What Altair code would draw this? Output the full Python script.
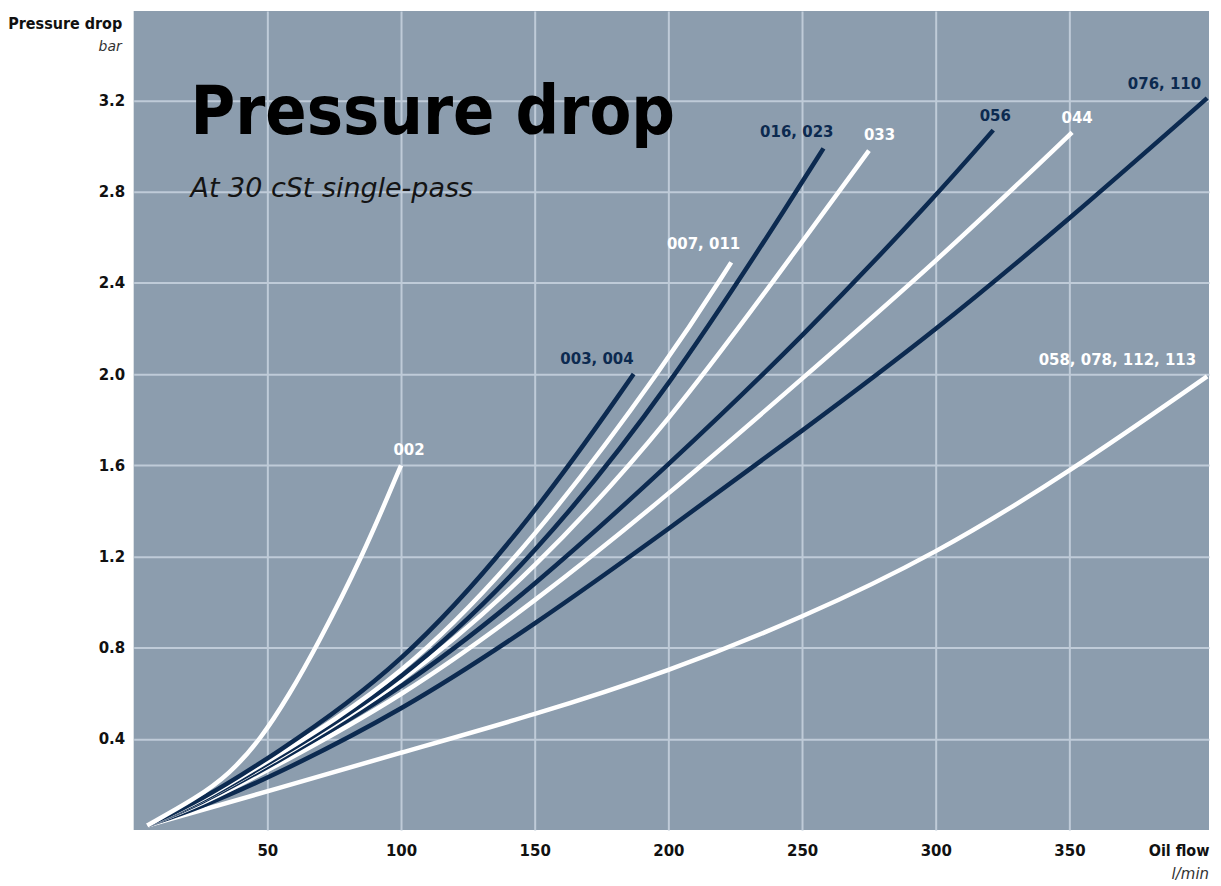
import altair as alt
import pandas as pd

# ---------------- data ----------------
series_names = ["058, 078, 112, 113", "076, 110", "044", "056", "033",
                "016, 023", "007, 011", "003, 004", "002"]

flow_058 = [5, 25, 50, 100, 150, 200, 250, 300, 350, 401.5]
dp_058 = [0.02, 0.085, 0.17, 0.34, 0.505, 0.695, 0.93, 1.21, 1.57, 1.99]

flow_076 = [5, 25, 50, 100, 150, 200, 250, 300, 350, 401.5]
dp_076 = [0.02, 0.10, 0.225, 0.52, 0.90, 1.32, 1.75, 2.19, 2.68, 3.21]

flow_044 = [5, 25, 50, 100, 150, 200, 250, 300, 351]
dp_044 = [0.02, 0.11, 0.26, 0.58, 1.00, 1.47, 1.98, 2.49, 3.06]

flow_056 = [5, 25, 50, 100, 150, 200, 250, 300, 321.5]
dp_056 = [0.02, 0.115, 0.275, 0.61, 1.07, 1.60, 2.16, 2.78, 3.07]

flow_033 = [5, 25, 50, 100, 150, 200, 250, 275]
dp_033 = [0.02, 0.12, 0.285, 0.63, 1.14, 1.78, 2.58, 2.98]

flow_016 = [5, 25, 50, 100, 150, 200, 250, 258]
dp_016 = [0.02, 0.12, 0.29, 0.64, 1.20, 1.93, 2.84, 2.99]

flow_007 = [5, 25, 50, 100, 150, 200, 223.5]
dp_007 = [0.02, 0.125, 0.30, 0.66, 1.27, 2.06, 2.49]

flow_003 = [5, 25, 50, 100, 150, 187]
dp_003 = [0.02, 0.13, 0.31, 0.71, 1.38, 2.00]

flow_002 = [5, 23.4, 35.8, 47.6, 58, 68.2, 85.6, 100]
dp_002 = [0.02, 0.14, 0.245, 0.40, 0.59, 0.80, 1.20, 1.60]

x_ticks = [50, 100, 150, 200, 250, 300, 350]
y_ticks = [0.4, 0.8, 1.2, 1.6, 2.0, 2.4, 2.8, 3.2]

# ---------------- styling ----------------
NAVY = "#0c2a50"
WHITE = "#ffffff"
series_colors = [WHITE, NAVY, WHITE, NAVY, WHITE, NAVY, WHITE, NAVY, WHITE]
# label placement relative to each curve's last point: (align, dx, dy)
label_style = {
    "058, 078, 112, 113": ("right", -11, -11),
    "076, 110": ("right", -6, -9),
    "044": ("center", 5, -9),
    "056": ("center", 2, -9),
    "033": ("left", -5, -11),
    "016, 023": ("right", 10, -11),
    "007, 011": ("right", 9, -13),
    "003, 004": ("right", 0, -10),
    "002": ("center", 8, -10),
}

flows = [flow_058, flow_076, flow_044, flow_056, flow_033, flow_016, flow_007, flow_003, flow_002]
drops = [dp_058, dp_076, dp_044, dp_056, dp_033, dp_016, dp_007, dp_003, dp_002]

rows = []
for i, (name, xs, ys) in enumerate(zip(series_names, flows, drops)):
    for x, y in zip(xs, ys):
        rows.append({"series": name, "flow": x, "dp": y, "k": i})
df = pd.DataFrame(rows)
ends = df.groupby("series", sort=False).tail(1).reset_index(drop=True)

W, H = 1078, 821
X_MAX = 402.2
Y_MAX = 3.592
LABEL_FONT = "DejaVu Sans"
COND_FONT = "DejaVu Sans Condensed"

x_enc = alt.X(
    "flow:Q",
    scale=alt.Scale(domain=[0, X_MAX], nice=False, zero=False),
    axis=alt.Axis(
        values=x_ticks, grid=True, ticks=False, tickSize=0, domain=False,
        labelFont=LABEL_FONT, labelFontSize=15, labelFontWeight="bold",
        labelColor="#111111", labelPadding=14, labelBaseline="top",
        title="Oil flow", titleFont=COND_FONT, titleFontSize=16,
        titleFontWeight="bold", titleColor="#111111", titleAngle=0,
        titleAlign="right", titleBaseline="alphabetic", titleX=W, titleY=26,
    ),
)
y_enc = alt.Y(
    "dp:Q",
    scale=alt.Scale(domain=[0, Y_MAX], nice=False, zero=True),
    axis=alt.Axis(
        values=y_ticks, format=".1f", grid=True, ticks=False, tickSize=0,
        domain=False, labelFont=LABEL_FONT, labelFontSize=15,
        labelFontWeight="bold", labelColor="#111111", labelPadding=9,
        title="Pressure drop", titleFont=COND_FONT, titleFontSize=16,
        titleFontWeight="bold", titleColor="#111111", titleAngle=0,
        titleAlign="right", titleBaseline="alphabetic", titleX=-12, titleY=17,
    ),
)

lines = alt.Chart(df).mark_line(
    strokeWidth=4.5, interpolate="basis", strokeCap="butt"
).encode(
    x=x_enc,
    y=y_enc,
    color=alt.Color("series:N", scale=alt.Scale(domain=series_names, range=series_colors), legend=None),
    detail="series:N",
    order="k:Q",
)

label_layers = []
for name, col in zip(series_names, series_colors):
    align, dx, dy = label_style[name]
    label_layers.append(
        alt.Chart(ends[ends["series"] == name]).mark_text(
            align=align, baseline="alphabetic", dx=dx, dy=dy,
            font=LABEL_FONT, fontSize=15, fontWeight="bold", color=col,
        ).encode(x="flow:Q", y="dp:Q", text="series:N")
    )

one = alt.Data(values=[{"a": 1}])
title_txt = alt.Chart(one).mark_text(
    text="Pressure drop", align="left", baseline="alphabetic",
    font=COND_FONT, fontSize=68, fontWeight="bold", color="#000000",
).encode(x=alt.value(57), y=alt.value(123))
subtitle_txt = alt.Chart(one).mark_text(
    text="At 30 cSt single-pass", align="left", baseline="alphabetic",
    font=LABEL_FONT, fontSize=27, fontStyle="italic", color="#141414",
).encode(x=alt.value(57), y=alt.value(186))
unit_y = alt.Chart(one).mark_text(
    text="bar", align="right", baseline="alphabetic",
    font=LABEL_FONT, fontSize=14, fontStyle="italic", color="#333333",
).encode(x=alt.value(-12), y=alt.value(40))
unit_x = alt.Chart(one).mark_text(
    text="l/min", align="right", baseline="alphabetic",
    font=LABEL_FONT, fontSize=15, fontStyle="italic", color="#333333",
).encode(x=alt.value(W), y=alt.value(870))

chart = alt.layer(lines, *label_layers, title_txt, subtitle_txt, unit_y, unit_x).properties(
    width=W, height=H,
    autosize=alt.AutoSizeParams(type="none"),
    padding={"left": 126, "top": 2, "right": 4, "bottom": 58},
    background="#ffffff",
).configure_view(
    fill="#8c9dae", stroke=None,
).configure_axis(
    gridColor="#bfcbd8", gridWidth=2, gridOpacity=1,
)

chart.save("out.html", embed_options={"renderer": "svg", "actions": False})
